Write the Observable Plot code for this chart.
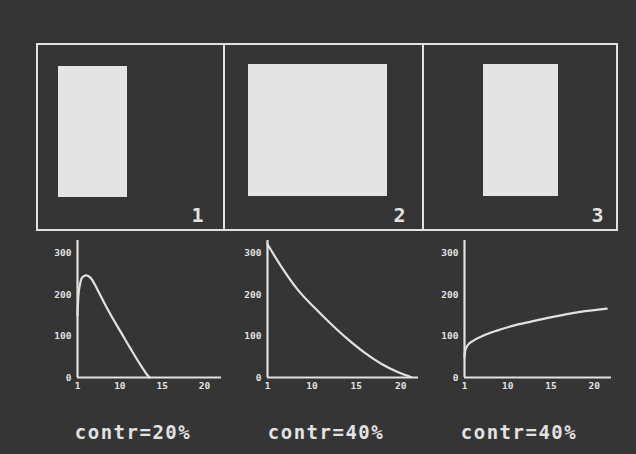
<!DOCTYPE html>
<html>
<head>
<meta charset="utf-8">
<script src="https://cdn.jsdelivr.net/npm/d3@7"></script>
<script src="https://cdn.jsdelivr.net/npm/@observablehq/plot@0.6"></script>
<style>
  html, body { margin: 0; padding: 0; background: #353535; }
  #root { position: relative; width: 636px; height: 454px; background: #353535; overflow: hidden; }
  #root > div, #root > svg { position: absolute; }
  .cap { font-family: "DejaVu Sans Mono", monospace; font-weight: bold; font-size: 19px; letter-spacing: 1.5px; color: #e2e2e2; transform: translate(-50%, -50%); white-space: nowrap; }
</style>
</head>
<body>
<div id="root"></div>
<script>
// ---- Top: stimulus panels (frame units) ----
const panelEdges = [0, 187, 386, 580];
const panelNumbers = ["1", "2", "3"];
const stimX1 = [21, 211, 446];
const stimX2 = [90, 350, 521];
const stimY1 = [33, 34, 34];
const stimY2 = [164, 166, 166];
const numberX = [160, 362, 560];
const numberY = [15, 15, 15];

// ---- Bottom: response curves (x in tick-position units) ----
const xTickLabels = ["1", "10", "15", "20"];
const yTicks = [0, 100, 200, 300];
const captions = ["contr=20%", "contr=40%", "contr=40%"];

const curve1X = [0, 0.02, 0.06, 0.12, 0.21, 0.31, 0.46, 0.62, 0.80, 1.02, 1.25, 1.49, 1.65, 1.70];
const curve1Y = [150, 195, 225, 242, 246, 240, 214, 182, 148, 110, 70, 30, 6, 0];

const curve2X = [0, 0.3, 0.67, 1.05, 1.43, 1.8, 2.17, 2.56, 2.93, 3.23];
const curve2Y = [321, 269, 213, 169, 129, 93, 61, 33, 13, 1];

const curve3X = [0, 0.02, 0.07, 0.21, 0.44, 0.75, 1.13, 1.52, 1.9, 2.29, 2.67, 3.05, 3.29];
const curve3Y = [50, 66, 77, 89, 101, 113, 125, 134, 143, 151, 158, 163, 166];

const curvesX = [curve1X, curve2X, curve3X];
const curvesY = [curve1Y, curve2Y, curve3Y];

const ink = "#e2e2e2";
const root = document.getElementById("root");

// Top panels plot
const panels = panelNumbers.map((n, i) => ({
  n, x1: panelEdges[i], x2: panelEdges[i + 1],
  sx1: stimX1[i], sx2: stimX2[i], sy1: stimY1[i], sy2: stimY2[i],
  nx: numberX[i], ny: numberY[i]
}));

const topPlot = Plot.plot({
  width: 636, height: 240,
  margin: 0,
  x: { domain: [0, 580], range: [37, 617], axis: null },
  y: { domain: [0, 186], range: [230, 44], axis: null },
  style: { background: "transparent", color: ink },
  marks: [
    Plot.rect(panels, { x1: "sx1", x2: "sx2", y1: "sy1", y2: "sy2", fill: "#e4e4e4" }),
    Plot.rect(panels, { x1: "x1", x2: "x2", y1: 0, y2: 186, fill: "none", stroke: ink, strokeWidth: 2 }),
    Plot.text(panels, { x: "nx", y: "ny", text: "n", fill: ink, fontSize: 20, fontWeight: "bold", fontFamily: "DejaVu Sans Mono", textAnchor: "middle" })
  ]
});
topPlot.style.left = "0px";
topPlot.style.top = "0px";
root.appendChild(topPlot);

// Bottom charts
const axisLeft = [77, 267, 464];
const unitPx = [42.3, 44.3, 43.3];
const mL = 30, mR = 4, mT = 10, mB = 22;
const xMax = 3.4, yMax = 330;

captions.forEach((cap, i) => {
  const data = curvesX[i].map((x, k) => ({ x, y: curvesY[i][k] }));
  const w = mL + mR + Math.round(xMax * unitPx[i]);
  const chart = Plot.plot({
    width: w, height: mT + 137 + mB,
    marginLeft: mL, marginRight: mR, marginTop: mT, marginBottom: mB,
    x: { domain: [0, xMax] },
    y: { domain: [0, yMax] },
    style: { background: "transparent", color: ink, fontFamily: "DejaVu Sans Mono", fontSize: "9.5px", fontWeight: "bold" },
    marks: [
      Plot.axisX({ ticks: [0, 1, 2, 3], tickFormat: (d) => xTickLabels[d], tickSize: 0, tickPadding: 5, label: null }),
      Plot.axisY({ ticks: yTicks, tickSize: 0, tickPadding: 6, label: null }),
      Plot.ruleY([0], { stroke: ink, strokeWidth: 2.2 }),
      Plot.ruleX([0], { stroke: ink, strokeWidth: 2.2 }),
      Plot.line(data, { x: "x", y: "y", stroke: ink, strokeWidth: 2.2, curve: "monotone-x" })
    ]
  });
  chart.style.left = (axisLeft[i] - mL) + "px";
  chart.style.top = "230px";
  root.appendChild(chart);
});

const capX = [133, 326, 519];
captions.forEach((c, i) => {
  const d = document.createElement("div");
  d.className = "cap";
  d.textContent = c;
  d.style.left = capX[i] + "px";
  d.style.top = "432px";
  root.appendChild(d);
});
</script>
</body>
</html>
